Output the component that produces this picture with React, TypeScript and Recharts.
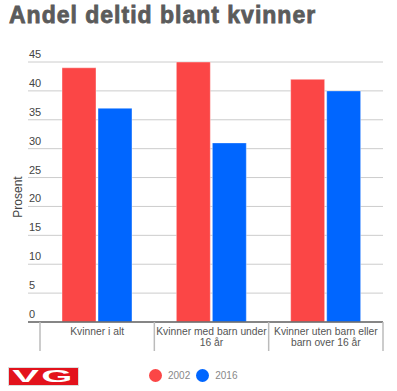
import React from 'react';
import { BarChart, Bar, XAxis, YAxis, CartesianGrid } from 'recharts';

const categories = ['Kvinner i alt', 'Kvinner med barn under 16 år', 'Kvinner uten barn eller barn over 16 år'];
const values2002 = [44, 45, 42];
const values2016 = [37, 31, 40];
const seriesNames = ['2002', '2016'];
const seriesColors = ['#fb4646', '#0066ff'];
const yTicks = [0, 5, 10, 15, 20, 25, 30, 35, 40, 45];

const data = categories.map((name, i) => ({
  name,
  v2002: values2002[i],
  v2016: values2016[i],
}));

const FONT = 'Arial, "Liberation Sans", sans-serif';
const LABEL_SIZE = 10.3;

// wrap a label into lines no wider than maxW, measured on a canvas
const wrapLabel = (label: string, maxW: number) => {
  const ctx = document.createElement('canvas').getContext('2d');
  if (!ctx) return [label];
  ctx.font = `${LABEL_SIZE}px Arial, "Liberation Sans", sans-serif`;
  const lines: string[] = [];
  let cur = '';
  label.split(' ').forEach((w) => {
    const next = cur ? cur + ' ' + w : w;
    if (cur && ctx.measureText(next).width > maxW) {
      lines.push(cur);
      cur = w;
    } else {
      cur = next;
    }
  });
  if (cur) lines.push(cur);
  return lines;
};

const YTick = (props: any) => {
  const { y, payload } = props;
  return (
    <text x={29} y={y - 4} fontSize={11} fill="#444" fontFamily={FONT} textAnchor="start">
      {payload.value}
    </text>
  );
};

const XTick = (props: any) => {
  const { x, y, payload, index } = props;
  const half = payload.offset || 57;
  const axisY = y - 8;
  const lines = wrapLabel(String(payload.value), 113);
  return (
    <g>
      <line x1={x - half} y1={axisY} x2={x - half} y2={axisY + 29} stroke="#bbb" strokeWidth={1.5} />
      {index === categories.length - 1 && (
        <line x1={x + half} y1={axisY} x2={x + half} y2={axisY + 29} stroke="#bbb" strokeWidth={1.5} />
      )}
      <text x={x} y={axisY + 13} textAnchor="middle" fontSize={LABEL_SIZE} fill="#555" fontFamily={FONT}>
        {lines.map((l, i) => (
          <tspan key={i} x={x} dy={i === 0 ? 0 : 11}>
            {l}
          </tspan>
        ))}
      </text>
    </g>
  );
};

const ProsentLabel = (props: any) => {
  const { viewBox } = props;
  const cy = viewBox.y + viewBox.height / 2 + 5;
  return (
    <text
      x={22}
      y={cy}
      transform={`rotate(-90 22 ${cy})`}
      textAnchor="middle"
      fontSize={12}
      fill="#444"
      fontFamily={FONT}
    >
      Prosent
    </text>
  );
};

export default function App() {
  return (
    <div style={{ position: 'absolute', left: 0, top: 0, width: 397, height: 391, background: '#fff', fontFamily: FONT }}>
      <div
        style={{
          position: 'absolute',
          left: 9,
          top: 3,
          fontSize: 23,
          lineHeight: '24px',
          fontWeight: 'bold',
          letterSpacing: 1,
          color: '#5b5b5b',
          WebkitTextStroke: '0.8px #5b5b5b',
          whiteSpace: 'nowrap',
        }}
      >
        Andel deltid blant kvinner
      </div>
      <BarChart
        width={397}
        height={391}
        data={data}
        margin={{ top: 62, right: 14, bottom: 39, left: 0 }}
        barSize={34}
        barGap={2}
      >
        <CartesianGrid vertical={false} stroke="#ccc" />
        <XAxis
          dataKey="name"
          interval={0}
          height={30}
          padding={{ left: 12, right: 0 }}
          tickLine={false}
          axisLine={{ stroke: '#666', strokeWidth: 1.5 }}
          tick={<XTick />}
        />
        <YAxis
          width={28}
          domain={[0, 45]}
          ticks={yTicks}
          axisLine={false}
          tickLine={false}
          tick={<YTick />}
          label={<ProsentLabel />}
        />
        <Bar dataKey="v2002" name={seriesNames[0]} fill={seriesColors[0]} stroke="#fff" strokeOpacity={0.4} isAnimationActive={false} />
        <Bar dataKey="v2016" name={seriesNames[1]} fill={seriesColors[1]} stroke="#fff" strokeOpacity={0.4} isAnimationActive={false} />
      </BarChart>
      <div
        style={{
          position: 'absolute',
          left: 9,
          top: 368,
          width: 69,
          height: 17,
          background: '#e3121c',
          boxShadow: '0 0 0 1px #ddd',
          overflow: 'hidden',
          color: '#fff',
          fontWeight: 900,
          fontSize: 16,
          lineHeight: '17px',
          textAlign: 'center',
        }}
      >
        <span style={{ display: 'inline-block', transform: 'scaleX(2.5)', letterSpacing: 1 }}>VG</span>
      </div>
      <div style={{ position: 'absolute', left: 149, top: 369, display: 'flex', alignItems: 'center', fontSize: 10, color: '#888' }}>
        {seriesNames.map((n, i) => (
          <div key={n} style={{ display: 'flex', alignItems: 'center', marginRight: 6 }}>
            <span style={{ width: 13, height: 13, borderRadius: 7, background: seriesColors[i], display: 'inline-block', marginRight: 6 }} />
            <span>{n}</span>
          </div>
        ))}
      </div>
    </div>
  );
}
